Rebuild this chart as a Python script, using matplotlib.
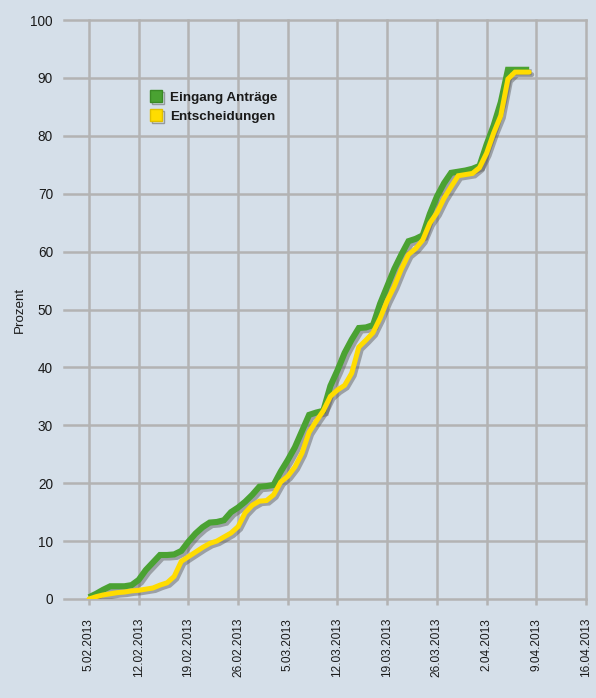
import matplotlib
matplotlib.use("Agg")
import matplotlib.pyplot as plt
import matplotlib.patheffects as pe
from matplotlib.lines import Line2D
import datetime as dt

# ---- data ----
start_date = "2013-02-05"
n_days = 63
eingang = [0.3, 0.9, 1.6, 2.2, 2.2, 2.2, 2.4, 3.3, 5.0, 6.3,
           7.6, 7.6, 7.7, 8.3, 9.9, 11.3, 12.4, 13.2, 13.3, 13.6,
           15.0, 15.8, 16.8, 18.0, 19.4, 19.5, 19.7, 22.0, 24.0, 26.2,
           29.0, 31.8, 32.2, 32.5, 36.8, 39.5, 42.5, 44.8, 46.8, 46.9,
           47.3, 51.0, 54.0, 57.0, 59.5, 61.8, 62.2, 62.8, 66.5, 69.5,
           71.8, 73.6, 73.8, 74.0, 74.3, 74.8, 78.5, 81.8, 85.8, 91.4,
           91.4, 91.4, 91.4]
entscheidungen = [0.0, 0.4, 0.7, 0.9, 1.1, 1.2, 1.4, 1.5, 1.7, 1.9,
                  2.4, 2.8, 3.9, 6.5, 7.3, 8.1, 8.9, 9.6, 10.0, 10.7,
                  11.4, 12.5, 14.9, 16.2, 16.9, 17.0, 18.0, 20.2, 21.2, 22.8,
                  25.2, 28.8, 30.7, 32.5, 35.0, 36.1, 36.9, 39.0, 43.5, 44.7,
                  46.0, 48.5, 51.5, 54.0, 57.0, 59.5, 60.5, 62.0, 64.9, 66.7,
                  69.2, 71.2, 73.1, 73.3, 73.5, 74.5, 77.0, 80.5, 83.5, 89.8,
                  91.0, 91.0, 91.0]
tick_dates = ["2013-02-05", "2013-02-12", "2013-02-19", "2013-02-26",
              "2013-03-05", "2013-03-12", "2013-03-19", "2013-03-26",
              "2013-04-02", "2013-04-09", "2013-04-16"]
y_ticks = [0, 10, 20, 30, 40, 50, 60, 70, 80, 90, 100]
series_names = ["Eingang Anträge", "Entscheidungen"]

# ---- styling ----
plt.rcParams['font.family'] = ['Liberation Sans', 'DejaVu Sans']
bg = '#d5dfe9'
grid_c = '#b3b3b3'
green = '#4aa232'
yellow = '#ffdc00'
txt = '#1a1a1a'

W, H = 596, 698
fig = plt.figure(figsize=(W / 100, H / 100), dpi=100, facecolor=bg)
ax = fig.add_axes([64 / W, 1 - 599 / H, (586 - 64) / W, (599 - 20) / H])
ax.set_facecolor(bg)

d0 = dt.datetime.strptime(start_date, "%Y-%m-%d")
dates = [d0 + dt.timedelta(days=i) for i in range(n_days)]
tdates = [dt.datetime.strptime(s, "%Y-%m-%d") for s in tick_dates]

shadow = [pe.SimpleLineShadow(offset=(1.8, -1.8), shadow_color='#555555', alpha=0.45),
          pe.Normal()]
ax.plot(dates, eingang, color=green, lw=4.4, solid_joinstyle='miter',
        solid_capstyle='butt', path_effects=shadow, zorder=3)
ax.plot(dates, entscheidungen, color=yellow, lw=3.6, solid_joinstyle='miter',
        solid_capstyle='round', path_effects=shadow, zorder=4)

ax.set_xlim(d0 - dt.timedelta(days=3.52), tdates[-1])
ax.set_ylim(0, 100)
ax.set_xticks(tdates)
ax.set_xticklabels([f"{d.day}.{d.month:02d}.{d.year}" for d in tdates],
                   rotation=90, fontsize=8.6, color=txt)
ax.set_yticks(y_ticks)
ax.set_yticklabels([str(v) for v in y_ticks], fontsize=9.8, color=txt)
ax.tick_params(axis='x', length=4.5, width=1.8, color=grid_c, pad=9)
ax.tick_params(axis='y', length=0, pad=8)
ax.grid(True, color=grid_c, lw=1.8, zorder=0)
ax.set_axisbelow(True)
for s in ax.spines.values():
    s.set_visible(False)
for gl in ax.get_xgridlines() + ax.get_ygridlines():
    gl.set_clip_on(False)

ax.set_ylabel("Prozent", fontsize=9.6, color=txt, labelpad=3)

sq_shadow = [pe.SimpleLineShadow(offset=(1.5, -1.5), shadow_color='#555555', alpha=0.5),
             pe.Normal()]
handles = [Line2D([], [], ls='none', marker='s', markersize=9, markerfacecolor=green,
                  markeredgecolor='#3a8a25', path_effects=sq_shadow),
           Line2D([], [], ls='none', marker='s', markersize=9, markerfacecolor=yellow,
                  markeredgecolor='#e0c000', path_effects=sq_shadow)]
leg = ax.legend(handles, series_names, loc='upper left',
                bbox_to_anchor=(137 / W, 1 - 79 / H), bbox_transform=fig.transFigure,
                frameon=False, handlelength=1.0, handletextpad=0.55, labelspacing=0.5,
                prop={'weight': 'bold', 'size': 9.7})
for t in leg.get_texts():
    t.set_color(txt)

fig.savefig("out.png", dpi=100, facecolor=bg)
